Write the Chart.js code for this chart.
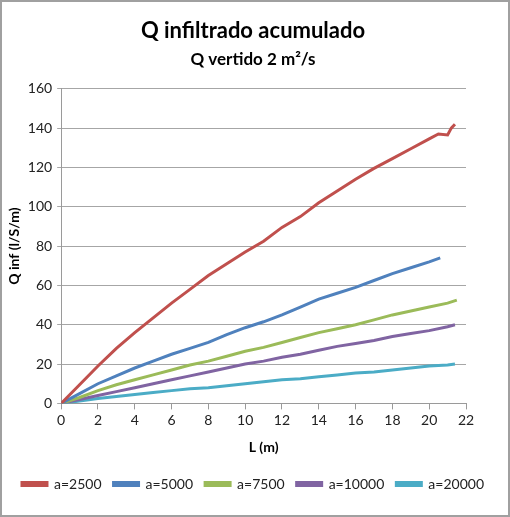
<!DOCTYPE html>
<html>
<head>
<meta charset="utf-8">
<script src="https://cdn.jsdelivr.net/npm/chart.js@4"></script>
<style>
  body { margin: 0; background: #fff; }
  #wrap { width: 510px; height: 517px; box-sizing: border-box; border: 2px solid #a0a0a0; background: #fff; }
</style>
</head>
<body>
<div id="wrap"><canvas id="qChart" width="506" height="513"></canvas></div>
<script>
// longitudes L (m) y caudal infiltrado acumulado por serie
const names = ["a=2500", "a=5000", "a=7500", "a=10000", "a=20000"];
const colors = ["#C0504D", "#4F81BD", "#9BBB59", "#8064A2", "#4BACC6"];

const xA2500 = [0,1,2,3,4,5,6,7,8,9,10,11,12,13,14,15,16,17,18,19,20,20.5,21,21.2,21.4];
const qA2500 = [0,9.5,19,28,36,43.5,51,58,65,71,77,82.5,89.5,95,102,108,114,119.5,124.5,129.5,134.5,137,136.5,140,142];

const xA5000 = [0,1,2,3,4,5,6,7,8,9,10,11,12,13,14,15,16,17,18,19,20,20.6];
const qA5000 = [0,5,10,14,18,21.5,25,28,31,35,38.5,41.5,45,49,53,56,59,62.5,66,69,72,74];

const xA7500 = [0,1,2,3,4,5,6,7,8,9,10,11,12,13,14,15,16,17,18,19,20,21,21.5];
const qA7500 = [0,3,6.5,9.5,12,14.5,17,19.5,21.5,24,26.5,28.5,31,33.5,36,38,40,42.5,45,47,49,51,52.5];

const xA10000 = [0,1,2,3,4,5,6,7,8,9,10,11,12,13,14,15,16,17,18,19,20,21,21.4];
const qA10000 = [0,2,4,6,8,10,12,14,16,18,20,21.5,23.5,25,27,29,30.5,32,34,35.5,37,39,40];

const xA20000 = [0,1,2,3,4,5,6,7,8,9,10,11,12,13,14,15,16,17,18,19,20,21,21.4];
const qA20000 = [0,1.2,2.5,3.5,4.5,5.5,6.5,7.5,8,9,10,11,12,12.5,13.5,14.5,15.5,16,17,18,19,19.5,20];

const xSeries = [xA2500, xA5000, xA7500, xA10000, xA20000];
const qSeries = [qA2500, qA5000, qA7500, qA10000, qA20000];

const fontFam = "Lato, 'Liberation Sans', sans-serif";

const datasets = names.map((name, i) => ({
    label: name,
    data: xSeries[i].map((x, j) => ({ x: x, y: qSeries[i][j] })),
    borderColor: colors[i],
    backgroundColor: colors[i],
    borderWidth: 3,
    pointRadius: 0,
    tension: 0,
    fill: false,
}));

new Chart(document.getElementById("qChart").getContext("2d"), {
    type: "line",
    data: { datasets: datasets },
    options: {
        responsive: false,
        animation: false,
        layout: { padding: { left: 0, right: 4, top: 4, bottom: 14 } },
        plugins: {
            title: {
                display: true,
                text: "Q infiltrado acumulado",
                color: "#000",
                font: { family: fontFam, size: 22, weight: "bold" },
                padding: { top: 12, bottom: 2 },
            },
            subtitle: {
                display: true,
                text: "Q vertido 2 m²/s",
                color: "#000",
                font: { family: fontFam, size: 17, weight: "bold" },
                padding: { top: 3, bottom: 19 },
            },
            legend: {
                position: "bottom",
                labels: {
                    boxWidth: 25,
                    boxHeight: 3,
                    padding: 12,
                    color: "#222",
                    font: { family: fontFam, size: 14 },
                },
            },
            tooltip: { enabled: false },
        },
        scales: {
            x: {
                type: "linear",
                min: 0,
                max: 22,
                title: {
                    display: true,
                    text: "L (m)",
                    color: "#000",
                    font: { family: fontFam, size: 14, weight: "bold" },
                    padding: { top: 7, bottom: 9 },
                },
                ticks: { stepSize: 2, color: "#222", font: { family: fontFam, size: 14 } },
                grid: { drawOnChartArea: false, tickLength: 6, color: "#9a9a9a" },
                border: { color: "#9a9a9a" },
            },
            y: {
                min: 0,
                max: 160,
                title: {
                    display: true,
                    text: "Q inf (l/S/m)",
                    color: "#000",
                    font: { family: fontFam, size: 14, weight: "bold" },
                    padding: { top: 4, bottom: 0 },
                },
                ticks: { stepSize: 20, padding: 5, color: "#222", font: { family: fontFam, size: 14 } },
                grid: { color: "#a6a6a6", tickLength: 4 },
                border: { color: "#9a9a9a" },
            },
            // espacio vacío a la derecha del área de trazado
            yRight: {
                position: "right",
                display: true,
                ticks: { display: false },
                grid: { display: false },
                border: { display: false },
                afterFit: (scale) => { scale.width = 38; },
            },
        },
    },
});
</script>
</body>
</html>
